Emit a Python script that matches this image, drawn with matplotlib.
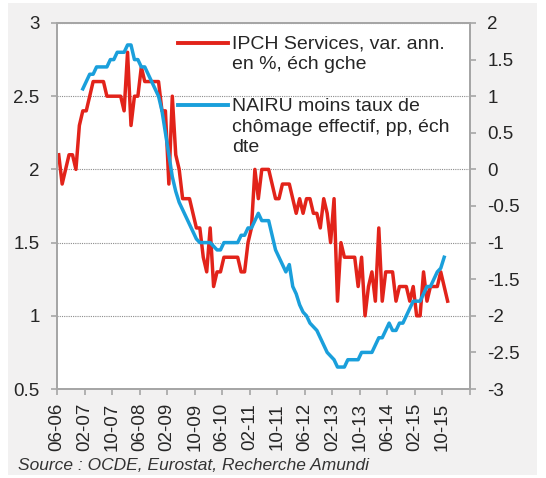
import numpy as np
import matplotlib.pyplot as plt
from matplotlib.lines import Line2D
from matplotlib.patches import Rectangle

plt.rcParams['font.family'] = ['Liberation Sans', 'DejaVu Sans']

# IPCH services, var. ann. en % (éch. gauche), mensuel depuis 06-06
ipch = [2.1, 1.9, 2.0, 2.1, 2.1, 2.0, 2.3, 2.4, 2.4, 2.5,
        2.6, 2.6, 2.6, 2.6, 2.5, 2.5, 2.5, 2.5, 2.5, 2.4,
        2.8, 2.3, 2.5, 2.5, 2.7, 2.6, 2.6, 2.6, 2.6, 2.6,
        2.4, 2.4, 1.9, 2.5, 2.1, 2.0, 1.8, 1.8, 1.8, 1.7,
        1.6, 1.6, 1.4, 1.3, 1.6, 1.2, 1.3, 1.3, 1.4, 1.4,
        1.4, 1.4, 1.4, 1.3, 1.3, 1.5, 1.6, 2.0, 1.8, 2.0,
        2.0, 2.0, 1.9, 1.8, 1.8, 1.9, 1.9, 1.9, 1.8, 1.7,
        1.8, 1.7, 1.8, 1.8, 1.7, 1.7, 1.6, 1.8, 1.7, 1.5,
        1.8, 1.1, 1.5, 1.4, 1.4, 1.4, 1.4, 1.2, 1.4, 1.0,
        1.2, 1.3, 1.1, 1.6, 1.1, 1.3, 1.3, 1.3, 1.1, 1.2,
        1.2, 1.2, 1.1, 1.2, 1.0, 1.0, 1.3, 1.1, 1.2, 1.2,
        1.2, 1.3, 1.2, 1.1]

# NAIRU moins taux de chômage effectif, pp (éch. droite), depuis 01-07
nairu_start = 7
nairu = [1.1, 1.2, 1.3, 1.3, 1.4, 1.4, 1.4, 1.4, 1.5, 1.5,
         1.6, 1.6, 1.6, 1.7, 1.7, 1.5, 1.5, 1.4, 1.4, 1.3,
         1.2, 1.1, 1.0, 0.8, 0.5, 0.2, -0.1, -0.3, -0.45, -0.55,
         -0.65, -0.75, -0.85, -0.95, -1.0, -1.0, -1.0, -1.0, -1.05, -1.1,
         -1.1, -1.0, -1.0, -1.0, -1.0, -1.0, -0.9, -0.9, -0.8, -0.8,
         -0.7, -0.6, -0.7, -0.7, -0.7, -0.9, -1.1, -1.2, -1.3, -1.4,
         -1.3, -1.6, -1.7, -1.85, -1.95, -2.0, -2.1, -2.15, -2.2, -2.3,
         -2.4, -2.5, -2.55, -2.6, -2.7, -2.7, -2.7, -2.6, -2.6, -2.6,
         -2.6, -2.5, -2.5, -2.5, -2.5, -2.4, -2.3, -2.3, -2.2, -2.1,
         -2.2, -2.2, -2.1, -2.1, -2.0, -1.9, -1.8, -1.8, -1.8, -1.7,
         -1.6, -1.6, -1.5, -1.4, -1.35, -1.2]

tick_labels = ['06-06', '02-07', '10-07', '06-08', '02-09', '10-09', '06-10',
               '02-11', '10-11', '06-12', '02-13', '10-13', '06-14', '02-15',
               '10-15']

red = '#E2231A'
blue = '#1A9FDB'
grey = '#A6A6A6'
txt = '#262626'

fig = plt.figure(figsize=(5.46, 4.78), dpi=100)
fig.patch.set_facecolor('white')
fig.patches.append(Rectangle((8/546, 3/478), 529/546, 472/478,
                             transform=fig.transFigure, facecolor='#F2F1F1',
                             edgecolor='none', zorder=-10))

ax = fig.add_axes([57/546, 1 - 389/478, 413/546, 366/478])
ax2 = ax.twinx()

x_red = np.arange(len(ipch)) + 0.5
x_blue = np.arange(len(nairu)) + nairu_start + 0.5
ax.plot(x_red, ipch, color=red, lw=2.5, solid_joinstyle='round')
ax2.plot(x_blue, nairu, color=blue, lw=2.5, solid_joinstyle='round')

ax.set_xlim(0, 120)
ax.set_ylim(0.5, 3)
ax2.set_ylim(-3, 2)
ax.set_yticks(np.arange(0.5, 3.01, 0.5))
ax.set_yticklabels(['0.5', '1', '1.5', '2', '2.5', '3'])
ax2.set_yticks(np.arange(-3, 2.01, 0.5))
ax2.set_yticklabels(['-3', '-2.5', '-2', '-1.5', '-1', '-0.5', '0', '0.5',
                     '1', '1.5', '2'])
ax.set_xticks(np.arange(0, 121, 8))
ax.set_xticklabels(tick_labels + [''], rotation=90)

ax.grid(axis='y', color='#8C8C8C', linestyle=(0, (1, 1)), lw=0.8)
for a in (ax, ax2):
    for s in a.spines.values():
        s.set_color(grey)
        s.set_linewidth(1.3)
ax.tick_params(axis='y', colors=grey, labelcolor=txt, labelsize=13.5,
               length=4.5, width=1.2, pad=8)
ax.tick_params(axis='x', colors=grey, labelcolor=txt, labelsize=13.5,
               length=4, width=1.2, pad=6)
ax2.tick_params(axis='y', colors=grey, labelcolor=txt, labelsize=13.5,
                length=4, width=1.2, pad=8.5)

# légende
ax.add_line(Line2D([0.293, 0.414], [0.945, 0.945], transform=ax.transAxes,
                   color=red, lw=2.8))
ax.text(0.424, 0.967, 'IPCH Services, var. ann.\nen %, éch gche',
        transform=ax.transAxes, va='top', fontsize=14, color=txt,
        linespacing=1.3)
ax.add_line(Line2D([0.293, 0.414], [0.776, 0.776], transform=ax.transAxes,
                   color=blue, lw=2.8))
ax.text(0.424, 0.796, 'NAIRU moins taux de\nchômage effectif, pp, éch\ndte',
        transform=ax.transAxes, va='top', fontsize=14, color=txt,
        linespacing=1.3, zorder=5)

fig.text(18/546, 1 - 465/478, 'Source : OCDE, Eurostat, Recherche Amundi',
         fontsize=12.5, style='italic', color='#333333', va='center')

fig.savefig('out.png', dpi=100)
